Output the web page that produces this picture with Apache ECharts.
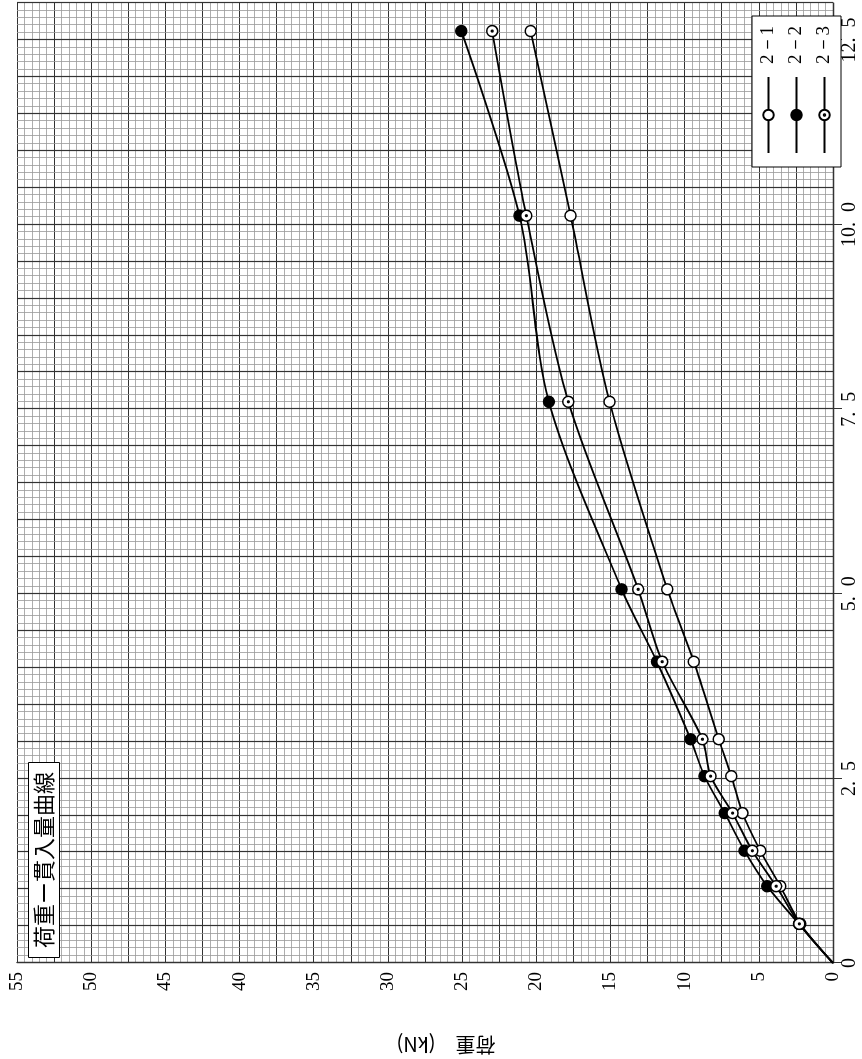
<!DOCTYPE html>
<html>
<head>
<meta charset="utf-8">
<script src="https://cdn.jsdelivr.net/npm/echarts@6/dist/echarts.min.js"></script>
<style>
html, body { margin:0; padding:0; background:#fff; overflow:hidden; width:862px; height:1059px; }
#chart { position:absolute; left:0; top:1059px; width:1059px; height:862px; transform-origin:0 0; transform:rotate(-90deg); }
</style>
</head>
<body>
<div id="chart"></div>
<script>
// ---- data (penetration in mm, load in kN) ----
const penetration = [0, 0.53, 1.04, 1.52, 2.03, 2.53, 3.03, 4.08, 5.06, 7.6, 10.12, 12.62];
const load_2_1 = [0, 2.2, 3.55, 4.9, 6.1, 6.85, 7.7, 9.38, 11.17, 15.06, 17.69, 20.38];
const load_2_2 = [0, 2.3, 4.43, 5.96, 7.3, 8.66, 9.6, 11.87, 14.25, 19.15, 21.13, 25.05];
const load_2_3 = [0, 2.27, 3.83, 5.44, 6.77, 8.25, 8.8, 11.51, 13.13, 17.84, 20.67, 22.97];
const seriesNames = ['2－1', '2－2', '2－3'];
const penTicks = [0, 2.5, 5, 7.5, 10, 12.5];
const loadTicks = [0, 5, 10, 15, 20, 25, 30, 35, 40, 45, 50, 55];
const chartTitle = '荷重ー貫入量曲線';
const loadAxisName = '荷重　(kN)';

const serif = '"Liberation Serif", "DejaVu Serif", serif';
const cjk = '"Noto Sans CJK JP", sans-serif';

function pairs(ys) {
  return penetration.map((p, i) => i === 0 ? { value: [p, ys[i]], symbol: 'none' } : [p, ys[i]]);
}
const dotCircle = 'path://M0,-10A10,10,0,1,1,0,10A10,10,0,1,1,0,-10Z M0,-1.6A1.6,1.6,0,1,1,0,1.6A1.6,1.6,0,1,1,0,-1.6Z';

function mkSeries(name, ys, symbol, fill) {
  return {
    name, type: 'line', xAxisIndex: 0, yAxisIndex: 0,
    data: pairs(ys), smooth: 0.3, symbol, symbolSize: 11,
    lineStyle: { color: '#000', width: 1.8 },
    itemStyle: { color: fill, borderColor: '#000', borderWidth: 1.5 },
    emphasis: { disabled: true }, z: 5
  };
}

const chart = echarts.init(document.getElementById('chart'));
chart.setOption({
  animation: false,
  backgroundColor: '#fff',
  title: {
    text: chartTitle, left: 101, top: 28, padding: [5, 10],
    backgroundColor: '#fff', borderColor: '#000', borderWidth: 1,
    textStyle: { fontFamily: cjk, fontSize: 22, fontWeight: 'normal', color: '#000' }, z: 10
  },
  legend: {
    data: seriesNames, orient: 'vertical', left: 892, top: 752,
    itemWidth: 76, itemHeight: 13, itemGap: 9, padding: [7, 10, 7, 13],
    backgroundColor: '#fff', borderColor: '#000', borderWidth: 1, selectedMode: false,
    textStyle: { fontFamily: serif, fontSize: 19, color: '#000', lineHeight: 13, padding: [0, 0, 0, 8] }, z: 10
  },
  grid: { left: 96, right: 3, top: 17, bottom: 29 },
  xAxis: [
    { type: 'value', min: 0, max: 13, interval: 0.5,
      axisLine: { show: true, lineStyle: { color: '#333', width: 1.3 } },
      axisTick: { show: false }, axisLabel: { show: false },
      splitLine: { show: true, lineStyle: { color: '#333', width: 1.2 } },
      minorTick: { show: false, splitNumber: 5 },
      minorSplitLine: { show: true, lineStyle: { color: '#999', width: 0.8 } } },
    { type: 'value', min: 0, max: 13, interval: 2.5, position: 'bottom',
      axisLine: { show: false }, splitLine: { show: false },
      axisTick: { show: true, inside: false, length: 9, customValues: penTicks, lineStyle: { color: '#333', width: 1 } },
      axisLabel: { show: true, margin: 7, customValues: penTicks, fontFamily: serif, fontSize: 20, color: '#000',
        formatter: v => v > 12.6 ? '' : (v === 0 ? '0' : v.toFixed(1).replace('.', '.\u2002')) } }
  ],
  yAxis: [
    { type: 'value', min: 0, max: 55, interval: 2.5, position: 'left',
      axisLine: { show: true, lineStyle: { color: '#333', width: 1.3 } },
      axisTick: { show: false }, axisLabel: { show: false },
      splitLine: { show: true, lineStyle: { color: '#333', width: 1.2 } },
      minorTick: { show: false, splitNumber: 5 },
      minorSplitLine: { show: true, lineStyle: { color: '#999', width: 0.8 } } },
    { type: 'value', min: 0, max: 55, interval: 5, position: 'left',
      axisLine: { show: false }, splitLine: { show: false }, axisTick: { show: false },
      axisLabel: { show: true, margin: 9, customValues: loadTicks, fontFamily: serif, fontSize: 19, color: '#000' } }
  ],
  graphic: [
    { type: 'text', x: 14, y: 446, rotation: Math.PI / 2,
      style: { text: loadAxisName, font: '20px "Noto Sans CJK JP", sans-serif', fill: '#000',
        align: 'center', verticalAlign: 'middle', textAlign: 'center', textVerticalAlign: 'middle' } }
  ],
  series: [
    mkSeries(seriesNames[0], load_2_1, 'circle', '#fff'),
    mkSeries(seriesNames[1], load_2_2, 'circle', '#000'),
    mkSeries(seriesNames[2], load_2_3, dotCircle, '#fff')
  ]
});
</script>
</body>
</html>
